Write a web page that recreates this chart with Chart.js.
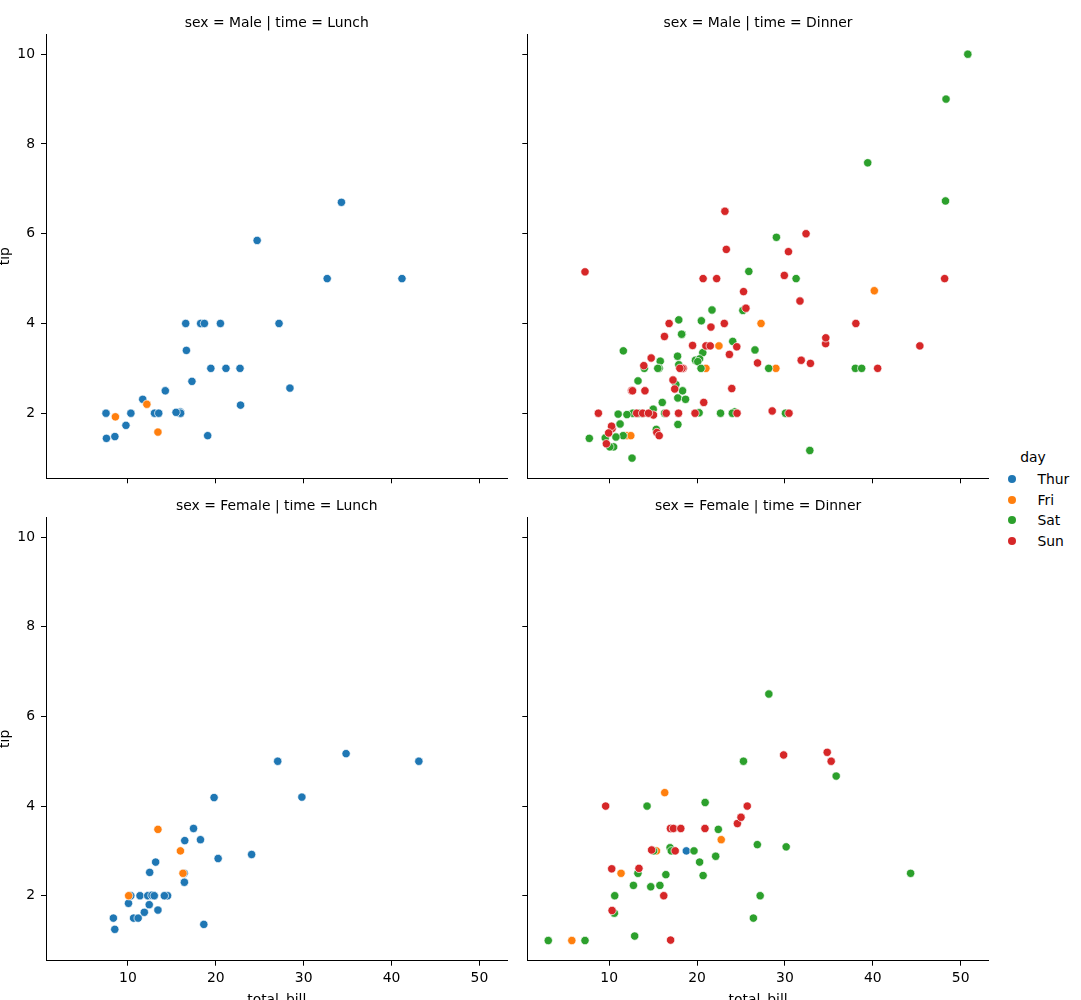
<!DOCTYPE html>
<html><head><meta charset="utf-8">
<script src="https://cdn.jsdelivr.net/npm/chart.js@4.4.1/dist/chart.umd.min.js"></script>
<style>
html,body{margin:0;padding:0;background:#fff;}
body{width:1081px;height:1000px;overflow:hidden;position:relative;font-family:"DejaVu Sans",sans-serif;}
canvas{position:absolute;}
.lg{position:absolute;font:13.9px "DejaVu Sans",sans-serif;color:#000;line-height:16px;white-space:nowrap;}
.dot{position:absolute;width:8.4px;height:8.4px;border-radius:50%;box-shadow:0 0 0 0.4px #fff;}
</style></head><body>
<canvas id="tl" width="517" height="500" style="left:0;top:0"></canvas>
<canvas id="tr" width="480" height="500" style="left:517px;top:0"></canvas>
<canvas id="bl" width="517" height="500" style="left:0;top:500px"></canvas>
<canvas id="br" width="480" height="500" style="left:517px;top:500px"></canvas>
<div id="legend"></div>
<script>
// ---- data: [total_bill, tip] per facet and day ----
const days = ['Thur', 'Fri', 'Sat', 'Sun'];
const dayColors = ['#1f77b4', '#ff7f0e', '#2ca02c', '#d62728'];
const xTicks = [10, 20, 30, 40, 50];
const yTicks = [2, 4, 6, 8, 10];
const xLimits = [0.683, 53.197];
const yLimits = [0.55, 10.45];

const maleLunchThur = [[27.2,4],[22.76,3],[17.29,2.71],[19.44,3],[16.66,3.4],[32.68,5],[15.98,2.03],[13.03,2],[18.28,4],[24.71,5.85],[21.16,3],[11.69,2.31],[14.26,2.5],[15.95,2],[8.52,1.48],[22.82,2.18],[19.08,1.5],[16,2],[34.3,6.7],[41.19,5],[9.78,1.73],[7.51,2],[28.44,2.56],[15.48,2.02],[16.58,4],[7.56,1.44],[10.34,2],[13.51,2],[18.71,4],[20.53,4]];
const maleLunchFri = [[12.16,2.2],[8.58,1.92],[13.42,1.58]];
const maleLunchSat = [];
const maleLunchSun = [];

const maleDinnerThur = [];
const maleDinnerFri = [[28.97,3],[22.49,3.5],[40.17,4.73],[27.28,4],[12.03,1.5],[21.01,3],[12.46,1.5]];
const maleDinnerSat = [[20.65,3.35],[17.92,4.08],[39.42,7.58],[19.82,3.18],[17.81,2.34],[13.37,2],[12.69,2],[21.7,4.3],[9.55,1.45],[18.35,2.5],[17.78,3.27],[24.06,3.6],[16.31,2],[18.69,2.31],[31.27,5],[16.04,2.24],[38.01,3],[11.24,1.76],[48.27,6.73],[20.29,3.21],[13.81,2],[11.02,1.98],[18.29,3.76],[17.59,2.64],[20.08,3.15],[20.23,2.01],[15.01,2.09],[12.02,1.97],[10.51,1.25],[17.92,3.08],[15.36,1.64],[20.49,4.06],[25.21,4.29],[18.24,3.76],[14,3],[50.81,10],[15.81,3.16],[26.59,3.41],[38.73,3],[24.27,2.03],[30.06,2],[25.89,5.16],[48.33,9],[28.15,3],[11.59,1.5],[7.74,1.44],[20.45,3],[13.28,2.72],[24.01,2],[15.69,3],[11.61,3.39],[10.77,1.47],[15.53,3],[10.07,1.25],[12.6,1],[32.83,1.17],[29.03,5.92],[22.67,2],[17.82,1.75]];
const maleDinnerSun = [[10.34,1.66],[21.01,3.5],[23.68,3.31],[25.29,4.71],[8.77,2],[26.88,3.12],[15.04,1.96],[14.78,3.23],[10.27,1.71],[15.42,1.57],[18.43,3],[21.58,3.92],[16.29,3.71],[17.46,2.54],[13.94,3.06],[9.68,1.32],[30.4,5.6],[18.29,3],[22.23,5],[32.4,6],[28.55,2.05],[18.04,3],[12.54,2.5],[9.94,1.56],[25.56,4.34],[19.49,3.51],[38.07,4],[23.95,2.55],[29.93,5.07],[14.07,2.5],[13.13,2],[17.26,2.74],[24.55,2],[19.77,2],[48.17,5],[16.49,2],[21.5,3.5],[12.66,2.5],[13.81,2],[24.52,3.48],[20.76,2.24],[31.71,4.5],[7.25,5.15],[31.85,3.18],[16.82,4],[32.9,3.11],[17.89,2],[14.48,2],[34.63,3.55],[34.65,3.68],[23.33,5.65],[45.35,3.5],[23.17,6.5],[40.55,3],[20.69,5],[30.46,2],[23.1,4],[15.69,1.5]];

const femaleLunchThur = [[10.07,1.83],[34.83,5.17],[10.65,1.5],[12.43,1.8],[24.08,2.92],[13.42,1.68],[12.48,2.52],[29.8,4.2],[14.52,2],[11.38,2],[20.27,2.83],[11.17,1.5],[12.26,2],[18.26,3.25],[8.51,1.25],[10.33,2],[14.15,2],[13.16,2.75],[17.47,3.5],[27.05,5],[16.43,2.3],[8.35,1.5],[18.64,1.36],[11.87,1.63],[19.81,4.19],[43.11,5],[13,2],[12.74,2.01],[13,2],[16.4,2.5],[16.47,3.23]];
const femaleLunchFri = [[13.42,3.48],[15.98,3],[16.27,2.5],[10.09,2]];
const femaleLunchSat = [];
const femaleLunchSun = [];

const femaleDinnerThur = [[18.78,3]];
const femaleDinnerFri = [[5.75,1],[16.32,4.3],[22.75,3.25],[11.35,2.5],[15.38,3]];
const femaleDinnerSat = [[20.29,2.75],[15.77,2.23],[19.65,3],[15.06,3],[20.69,2.45],[16.93,3.07],[26.41,1.5],[16.45,2.47],[3.07,1],[17.07,3],[26.86,3.14],[25.28,5],[14.73,2.2],[44.3,2.5],[22.42,3.48],[20.92,4.08],[14.31,4],[7.25,1],[10.59,1.61],[10.63,2],[12.76,2.23],[13.27,2.5],[28.17,6.5],[12.9,1.1],[30.14,3.09],[22.12,2.88],[35.83,4.67],[27.18,2]];
const femaleDinnerSun = [[16.99,1.01],[24.59,3.61],[35.26,5],[14.83,3.02],[10.33,1.67],[16.97,3.5],[10.29,2.6],[34.81,5.2],[25.71,4],[17.31,3.5],[29.85,5.14],[25,3.75],[13.39,2.61],[16.21,2],[17.51,3],[9.6,4],[20.9,3.5],[18.15,3.5]];

// ---- drawing ----
const FONT = {family: '"DejaVu Sans", sans-serif', size: 13.9};

const facetTitlePlugin = {
  id: 'facetTitle',
  afterDraw(chart, args, opts) {
    const {ctx, chartArea} = chart;
    ctx.save();
    ctx.font = '13.9px "DejaVu Sans", sans-serif';
    ctx.fillStyle = '#000';
    ctx.textAlign = 'center';
    ctx.textBaseline = 'alphabetic';
    ctx.fillText(opts.text, (chartArea.left + chartArea.right) / 2, chartArea.top - 7.5);
    ctx.restore();
  }
};

function makePanel(id, sets, cfg) {
  return new Chart(document.getElementById(id), {
    type: 'scatter',
    data: {
      datasets: days.map((d, i) => ({
        label: d,
        data: sets[i].map(p => ({x: p[0], y: p[1]})),
        backgroundColor: dayColors[i],
        borderColor: '#ffffff',
        borderWidth: 0.7,
        pointRadius: 4.17,
        pointHoverRadius: 4.17,
        order: 3 - i
      }))
    },
    options: {
      responsive: false,
      animation: false,
      devicePixelRatio: 1,
      events: [],
      layout: {padding: cfg.padding},
      plugins: {legend: {display: false}, tooltip: {enabled: false}, facetTitle: {text: cfg.title}},
      scales: {
        x: {
          type: 'linear', min: xLimits[0], max: xLimits[1],
          afterBuildTicks: s => { s.ticks = xTicks.map(v => ({value: v})); },
          afterFit: s => { s.height = cfg.xh; },
          grid: {drawOnChartArea: false, drawTicks: true, tickLength: 5, tickWidth: 1, tickColor: '#000'},
          border: {display: true, color: '#000', width: 1},
          ticks: {display: cfg.xLabels, padding: 4, color: '#000', font: FONT, maxRotation: 0, autoSkip: false},
          title: {display: cfg.xLabels, text: 'total_bill', color: '#000', font: FONT, padding: {top: 0, bottom: -8.8}}
        },
        y: {
          type: 'linear', min: yLimits[0], max: yLimits[1],
          afterBuildTicks: s => { s.ticks = yTicks.map(v => ({value: v})); },
          afterFit: s => { s.width = cfg.yw; },
          grid: {drawOnChartArea: false, drawTicks: true, tickLength: 5, tickWidth: 1, tickColor: '#000'},
          border: {display: true, color: '#000', width: 1},
          ticks: {display: cfg.yLabels, padding: 6, color: '#000', font: FONT, autoSkip: false},
          title: {display: cfg.yLabels, text: 'tip', color: '#000', font: FONT, padding: {top: -3, bottom: 0}}
        }
      }
    },
    plugins: [facetTitlePlugin]
  });
}

makePanel('tl', [maleLunchThur, maleLunchFri, maleLunchSat, maleLunchSun],
  {title: 'sex = Male | time = Lunch', padding: {left: 0, top: 34, right: 9.5, bottom: 0}, xh: 21.7, yw: 46, xLabels: false, yLabels: true});
makePanel('tr', [maleDinnerThur, maleDinnerFri, maleDinnerSat, maleDinnerSun],
  {title: 'sex = Male | time = Dinner', padding: {left: 0, top: 34, right: 8.2, bottom: 0}, xh: 21.7, yw: 10.3, xLabels: false, yLabels: false});
makePanel('bl', [femaleLunchThur, femaleLunchFri, femaleLunchSat, femaleLunchSun],
  {title: 'sex = Female | time = Lunch', padding: {left: 0, top: 17, right: 9.5, bottom: 0}, xh: 39.3, yw: 46, xLabels: true, yLabels: true});
makePanel('br', [femaleDinnerThur, femaleDinnerFri, femaleDinnerSat, femaleDinnerSun],
  {title: 'sex = Female | time = Dinner', padding: {left: 0, top: 17, right: 8.2, bottom: 0}, xh: 39.3, yw: 10.3, xLabels: true, yLabels: false});

// ---- legend ----
(function () {
  const lg = document.getElementById('legend');
  const t = document.createElement('div');
  t.className = 'lg';
  t.textContent = 'day';
  t.style.left = '1003px'; t.style.width = '60px'; t.style.textAlign = 'center'; t.style.top = '449px';
  lg.appendChild(t);
  const rowY = [479.3, 500.3, 520.3, 541.3];
  days.forEach((d, i) => {
    const dot = document.createElement('div');
    dot.className = 'dot';
    dot.style.background = dayColors[i];
    dot.style.left = (1012.3 - 4.2) + 'px';
    dot.style.top = (rowY[i] - 4.2) + 'px';
    lg.appendChild(dot);
    const tx = document.createElement('div');
    tx.className = 'lg';
    tx.textContent = d;
    tx.style.left = '1037.5px';
    tx.style.top = (rowY[i] - 8) + 'px';
    lg.appendChild(tx);
  });
})();
</script>
</body></html>
